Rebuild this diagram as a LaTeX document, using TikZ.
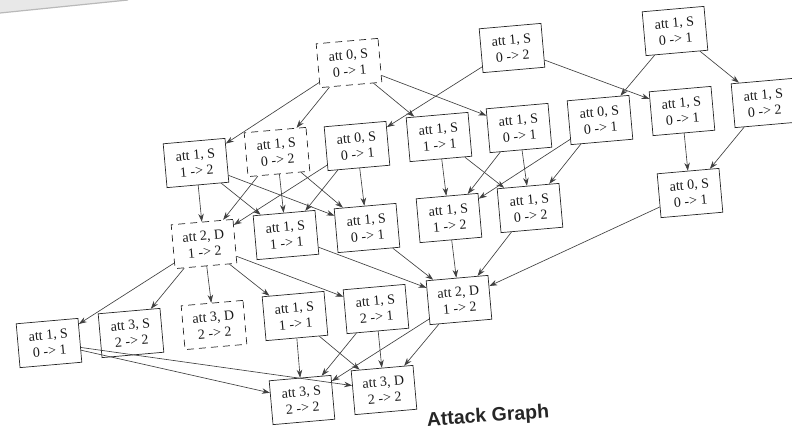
\documentclass[tikz,border=0pt]{standalone}
\usepackage{fontspec}
\setmainfont{Liberation Serif}
\newfontfamily\titlefont{Liberation Sans}
\usetikzlibrary{arrows.meta}
\begin{document}
\begin{tikzpicture}[x=1pt,y=-1pt,
  st/.style={draw=black!85, line width=0.7pt, rotate=5, minimum width=62pt, minimum height=44pt,
    inner sep=0pt, align=center, font=\fontsize{14}{16.5}\selectfont, text=black!90},
  ds/.style={st, dash pattern=on 7pt off 5pt},
  ar/.style={draw=black!75, line width=0.65pt, -{Stealth[length=8pt,width=5.5pt]}}]
\useasboundingbox (0,0) rectangle (792,440);
\fill[gray!18] (0,0) -- (128,0) -- (0,13) -- cycle;
\draw[gray!55, line width=1.2pt] (0,13) -- (128,0);
% row 1
\node[ds] (A) at (349,63) {att 0, S\\0 -> 1};
\node[st] (B) at (512,48) {att 1, S\\0 -> 2};
\node[st] (C) at (675,31) {att 1, S\\0 -> 1};
% row 2
\node[st] (D) at (764,103) {att 1, S\\0 -> 2};
\node[st] (E) at (682,111) {att 1, S\\0 -> 1};
\node[st] (F) at (600,120) {att 0, S\\0 -> 1};
\node[st] (G) at (519,128) {att 1, S\\0 -> 1};
\node[st] (H) at (439,137) {att 1, S\\1 -> 1};
\node[st] (I) at (357,146) {att 0, S\\0 -> 1};
\node[ds] (J) at (277,152) {att 1, S\\0 -> 2};
\node[st] (K) at (196,163) {att 1, S\\1 -> 2};
% row 3
\node[st] (L) at (690,193) {att 0, S\\0 -> 1};
\node[st] (M) at (530,208) {att 1, S\\0 -> 2};
\node[st] (N) at (449,218) {att 1, S\\1 -> 2};
\node[st] (O) at (367,228) {att 1, S\\0 -> 1};
\node[st] (P) at (286,235) {att 1, S\\1 -> 1};
\node[ds] (Q) at (204,244) {att 2, D\\1 -> 2};
% row 4
\node[st] (R) at (459,300) {att 2, D\\1 -> 2};
\node[st] (S) at (376,309) {att 1, S\\2 -> 1};
\node[st] (T) at (295,316) {att 1, S\\1 -> 1};
\node[ds] (U) at (214,325) {att 3, D\\2 -> 2};
\node[st] (V) at (131,333) {att 3, S\\2 -> 2};
\node[st] (W) at (49,343) {att 1, S\\0 -> 1};
% row 5
\node[st] (X) at (302,400) {att 3, S\\2 -> 2};
\node[st] (Y) at (384,390) {att 3, D\\2 -> 2};
\node[rotate=4, font=\titlefont\bfseries\fontsize{19.5}{20}\selectfont, text=black!85] (title) at (488,417) {Attack Graph};
% edges
\foreach \a/\b in {A/K, A/J, A/H, A/G, B/I, B/E, C/F, C/D, D/L, E/L,
  K/Q, K/P, K/O, J/Q, J/P, J/O, I/Q, I/P, I/O, H/N, H/M, G/N, G/M, F/N, F/M,
  N/R, M/R, L/R, O/R, P/R, Q/W, Q/V, Q/U, Q/T, Q/S,
  T/X, T/Y, S/X, S/Y, R/X, R/Y, W/X, W/Y}
  \draw[ar] (\a) -- (\b);
\end{tikzpicture}
\end{document}
